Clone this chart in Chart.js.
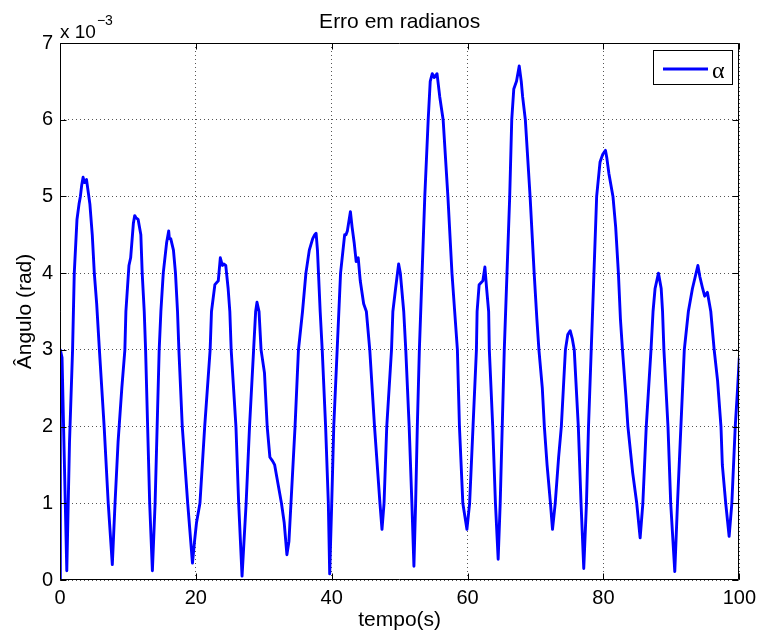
<!DOCTYPE html>
<html lang="pt">
<head>
  <meta charset="utf-8" />
  <title>Erro em radianos</title>
  <script src="https://cdn.jsdelivr.net/npm/chart.js"></script>
  <style>
    html, body {
      margin: 0;
      padding: 0;
      background: #fff;
    }
  </style>
</head>
<body>
  <canvas id="erroChart" width="762" height="635"></canvas>

  <script>
    // tempo (s) e erro do ângulo alfa (em unidades de 10^-3 rad), um ciclo por linha
    const tempo = [
      0, 0.05, 0.3, 1.0, 1.4, 1.85, 2.1, 2.5, 2.8, 3.0, 3.2, 3.4, 3.6, 3.9, 4.4, 4.75, 5.05, 5.4, 5.8, 6.5, 7.1, 7.7,
      8.1, 8.55, 9.1, 9.55, 9.7, 10.15, 10.4, 10.8, 11.0, 11.2, 11.5, 11.9, 12.1, 12.4, 12.6, 12.9, 13.2, 13.6,
      14.0, 14.3, 14.6, 14.85, 15.2, 15.7, 16.0, 16.1, 16.3, 16.7, 17.0, 17.3, 17.5, 18.0, 18.8, 19.5,
      19.8, 20.1, 20.6, 21.3, 22.1, 22.3, 22.8, 23.3, 23.6, 23.9, 24.1, 24.4, 24.75, 25.0, 25.2, 25.9, 26.3, 26.8,
      27.4, 27.9, 28.5, 28.8, 29.0, 29.3, 29.6, 30.1, 30.5, 30.9, 31.3, 31.6, 31.9, 32.6, 33.0, 33.4,
      33.7, 34.0, 34.6, 35.1, 35.7, 36.2, 36.7, 37.2, 37.5, 37.7, 37.9, 38.3, 38.6, 39.1, 39.5, 39.7,
      40.0, 40.3, 40.8, 41.3, 41.9, 42.1, 42.3, 42.75, 43.0, 43.3, 43.6, 43.9, 44.2, 44.7, 45.1, 45.6, 46.3, 47.1, 47.4,
      47.7, 48.1, 48.8, 49.0, 49.4, 49.85, 50.1, 50.6, 50.9, 51.4, 51.8, 52.1,
      52.35, 52.6, 52.9, 53.3, 53.7, 54.2, 54.5, 54.8, 55.1, 55.5, 55.9, 56.4, 57.1, 57.7, 58.1, 58.5, 58.8, 59.3, 59.9,
      60.3, 60.8, 61.3, 61.4, 61.7, 62.25, 62.55, 62.8, 63.1, 63.2, 63.7, 64.1, 64.5,
      64.8, 65.1, 65.4, 65.8, 66.2, 66.5, 66.8, 67.2, 67.6, 67.9, 68.1, 68.5, 69.2, 69.8, 70.2, 70.5, 71.0, 71.3, 71.7, 72.2, 72.5,
      72.9, 73.4, 73.8, 74.1, 74.4, 74.75, 75.1, 75.4, 75.7, 76.3, 76.7, 77.1,
      77.5, 77.8, 78.2, 78.6, 79.0, 79.5, 79.9, 80.3, 80.5, 80.8, 81.4, 81.8, 82.2, 82.5, 82.8, 83.3, 83.6, 84.3, 84.9, 85.4,
      85.8, 86.3, 87.0, 87.3, 87.6, 88.1, 88.5, 88.7, 88.9, 89.5, 89.9, 90.5,
      90.9, 91.4, 91.9, 92.5, 93.1, 93.5, 93.9, 94.2, 94.6, 94.9, 95.3, 95.6, 95.8, 96.3, 96.8, 97.3, 97.5, 98.0, 98.5, 98.9, 99.4, 99.75, 100
    ];
    const alfa = [
      0, 3.0, 2.9, 0.12, 1.8, 3.0, 4.0, 4.7, 4.9, 5.0, 5.15, 5.25, 5.18, 5.22, 4.9, 4.5, 4.0, 3.6, 3.0, 2.0, 1.0, 0.2,
      1.0, 1.8, 2.5, 3.0, 3.5, 4.1, 4.2, 4.65, 4.75, 4.72, 4.7, 4.5, 4.0, 3.5, 3.0, 2.0, 1.0, 0.12,
      1.0, 2.0, 3.0, 3.5, 4.0, 4.4, 4.55, 4.45, 4.45, 4.3, 4.0, 3.5, 3.0, 2.0, 1.0, 0.22,
      0.5, 0.75, 1.0, 2.0, 3.0, 3.5, 3.85, 3.9, 4.2, 4.1, 4.12, 4.1, 3.8, 3.5, 3.0, 2.0, 1.0, 0.05,
      1.0, 2.0, 3.0, 3.5, 3.62, 3.5, 3.0, 2.7, 2.0, 1.6, 1.55, 1.5, 1.35, 1.0, 0.75, 0.33,
      0.5, 1.0, 2.0, 3.0, 3.5, 4.0, 4.3, 4.45, 4.5, 4.52, 4.3, 3.5, 3.0, 2.0, 1.0, 0.08,
      1.0, 2.0, 3.0, 4.0, 4.5, 4.5, 4.55, 4.8, 4.6, 4.4, 4.15, 4.2, 3.9, 3.6, 3.5, 3.0, 2.0, 1.0, 0.66,
      1.0, 2.0, 3.0, 3.5, 3.8, 4.12, 4.0, 3.5, 3.0, 2.0, 1.0, 0.18,
      1.0, 2.0, 3.0, 4.0, 5.0, 6.0, 6.5, 6.6, 6.55, 6.6, 6.3, 6.0, 5.0, 4.0, 3.5, 3.0, 2.0, 1.0, 0.66,
      1.0, 2.0, 3.0, 3.5, 3.85, 3.9, 4.08, 3.8, 3.5, 3.0, 2.0, 1.0, 0.27,
      1.0, 2.0, 3.0, 4.0, 5.0, 6.0, 6.4, 6.5, 6.7, 6.5, 6.3, 6.0, 5.0, 4.0, 3.4, 3.0, 2.5, 2.0, 1.5, 1.0, 0.66,
      1.0, 1.6, 2.0, 2.5, 3.0, 3.2, 3.25, 3.15, 3.0, 2.0, 1.0, 0.15,
      1.0, 2.0, 3.0, 4.0, 5.0, 5.45, 5.55, 5.6, 5.5, 5.3, 5.0, 4.6, 4.0, 3.4, 3.0, 2.4, 2.0, 1.4, 1.0, 0.55,
      1.0, 2.0, 3.0, 3.5, 3.8, 4.0, 3.8, 3.5, 3.0, 2.0, 1.0, 0.11,
      1.0, 2.0, 3.0, 3.5, 3.8, 3.95, 4.1, 3.95, 3.8, 3.7, 3.75, 3.6, 3.5, 3.0, 2.6, 2.0, 1.5, 1.0, 0.57, 1.0, 2.0, 2.5, 2.9
    ];
    const xTicks = [0, 20, 40, 60, 80, 100];
    const yTicks = [0, 1, 2, 3, 4, 5, 6, 7];

    const FONTE = "'Liberation Sans', Arial, Helvetica, sans-serif";
    const AZUL = "#0000ff";
    Chart.defaults.font.family = FONTE;
    Chart.defaults.color = "#000";

    // caixa do eixo com marcas para dentro, título, expoente e legenda
    const molduraPlugin = {
      id: "moldura",
      afterDatasetsDraw(chart) {
        const { ctx, chartArea: a, scales: { x, y } } = chart;
        const L = Math.round(a.left) + 0.5, R = Math.round(a.right) - 0.5;
        const T = Math.round(a.top) + 0.5, B = Math.round(a.bottom) - 0.5;
        ctx.save();
        ctx.strokeStyle = "#000";
        ctx.lineWidth = 1;
        ctx.beginPath();
        ctx.rect(L, T, R - L, B - T);
        xTicks.forEach(v => {
          const px = Math.round(x.getPixelForValue(v)) + 0.5;
          ctx.moveTo(px, B); ctx.lineTo(px, B - 6);
          ctx.moveTo(px, T); ctx.lineTo(px, T + 6);
        });
        yTicks.forEach(v => {
          const py = Math.round(y.getPixelForValue(v)) + 0.5;
          ctx.moveTo(L, py); ctx.lineTo(L + 6, py);
          ctx.moveTo(R, py); ctx.lineTo(R - 6, py);
        });
        ctx.stroke();

        // legenda
        ctx.fillStyle = "#fff";
        ctx.fillRect(653.5, 50.5, 79, 34);
        ctx.strokeRect(653.5, 50.5, 79, 34);
        ctx.strokeStyle = AZUL;
        ctx.lineWidth = 2.8;
        ctx.beginPath();
        ctx.moveTo(663, 69); ctx.lineTo(708, 69);
        ctx.stroke();
        ctx.fillStyle = "#000";
        ctx.textAlign = "left";
        ctx.textBaseline = "alphabetic";
        ctx.font = "24px 'Liberation Serif', 'DejaVu Serif', serif";
        ctx.fillText(chart.data.datasets[0].label, 712, 78);

        // título
        ctx.textAlign = "center";
        ctx.font = "21px " + FONTE;
        ctx.fillText("Erro em radianos", (a.left + a.right) / 2, 28);

        // fator de escala do eixo y
        ctx.textAlign = "left";
        ctx.font = "19px " + FONTE;
        const base = "x 10";
        ctx.fillText(base, 60, 38);
        const w = ctx.measureText(base).width;
        ctx.font = "14px " + FONTE;
        ctx.fillText("\u22123", 60 + w + 1, 25);
        ctx.restore();
      }
    };

    const ctx = document.getElementById("erroChart").getContext("2d");
    new Chart(ctx, {
      type: "line",
      data: {
        datasets: [{
          label: "\u03b1",
          data: tempo.map((t, i) => ({ x: t, y: alfa[i] })),
          borderColor: AZUL,
          backgroundColor: AZUL,
          borderWidth: 2.9,
          borderJoinStyle: "round",
          pointRadius: 0,
          tension: 0,
          fill: false
        }]
      },
      options: {
        responsive: false,
        animation: false,
        layout: { padding: { top: 43, right: 22, left: 0, bottom: 0 } },
        plugins: {
          legend: { display: false },
          tooltip: { enabled: false },
          title: { display: false }
        },
        scales: {
          x: {
            type: "linear",
            min: 0,
            max: 100,
            afterFit: s => { s.height = 55; },
            afterBuildTicks: s => { s.ticks = xTicks.map(v => ({ value: v })); },
            ticks: { font: { size: 20 }, padding: 6, maxRotation: 0 },
            grid: { color: "#555", lineWidth: 1, drawTicks: false },
            border: { display: false, dash: [1, 3] },
            title: { display: true, text: "tempo(s)", font: { size: 21 }, padding: { top: 0, bottom: 2 } }
          },
          y: {
            min: 0,
            max: 7,
            afterFit: s => { s.width = 60; },
            afterBuildTicks: s => { s.ticks = yTicks.map(v => ({ value: v })); },
            ticks: { font: { size: 20 }, padding: 7 },
            grid: { color: "#555", lineWidth: 1, drawTicks: false },
            border: { display: false, dash: [1, 3] },
            title: { display: true, text: "\u00c2ngulo (rad)", font: { size: 21 }, padding: { top: 13, bottom: 0 } }
          }
        }
      },
      plugins: [molduraPlugin]
    });
  </script>
</body>
</html>
